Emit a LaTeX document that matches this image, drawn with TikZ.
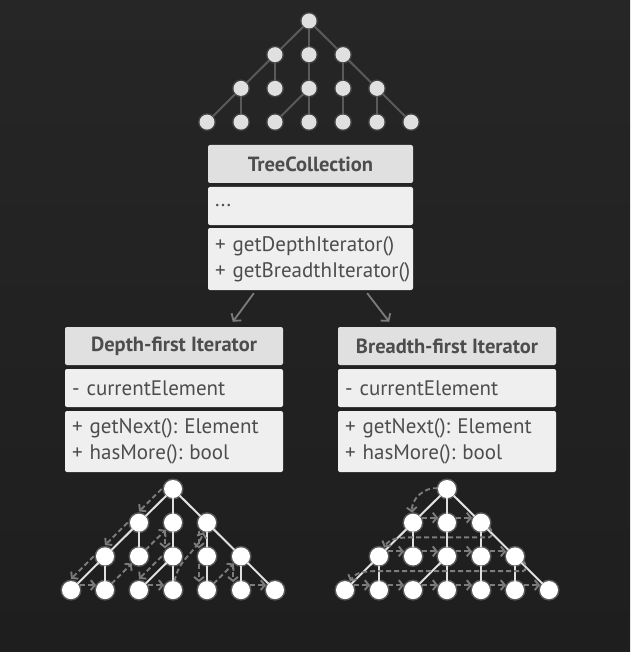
\documentclass[tikz,border=0pt]{standalone}
\usepackage{fontspec}
\setmainfont{PT Sans}
\usepackage{tikz}
\usetikzlibrary{arrows.meta,calc}
\frenchspacing

\definecolor{bgtop}{HTML}{262626}
\definecolor{bgbot}{HTML}{1E1E1E}
\definecolor{headfill}{HTML}{E0E0E0}
\definecolor{boxfill}{HTML}{EFEFEF}
\definecolor{ink}{HTML}{4D4D4D}
\definecolor{darkedge}{HTML}{5A5A5A}
\definecolor{walkgray}{HTML}{7C7C7C}

\begin{document}
\begin{tikzpicture}[x=1pt, y=1pt,
        uml/.style = {rectangle, rounded corners=2pt, fill=boxfill, text=ink, inner xsep=7pt, inner ysep=0pt,
                      font=\fontsize{21}{26}\selectfont},
        head/.style = {uml, fill=headfill, font=\bfseries\fontsize{20.5}{26}\selectfont, minimum height=38pt},
        part/.style = {uml, align=left},
        tnode/.style = {circle, fill=headfill, minimum size=15pt, inner sep=0pt,
                        preaction={draw=white, draw opacity=.12, line width=3pt}},
        bnode/.style = {circle, fill=white, minimum size=18pt, inner sep=0pt,
                        preaction={draw=white, draw opacity=.25, line width=3pt}},
        tedge/.style = {draw=darkedge, line width=2pt},
        bedge/.style = {draw=headfill, line width=2pt},
        walk/.style = {draw=walkgray, line width=1.9pt, dash pattern=on 5pt off 3pt,
                       -{Straight Barb[length=4pt,width=10pt]}, shorten >=1pt},
        dep/.style = {draw=walkgray, line width=1.8pt, -{Straight Barb[length=5pt,width=12pt]}}
    ]
        \shade[top color=bgtop, bottom color=bgbot] (0,0) rectangle (630,-652);

        % the three trees
        \foreach \p/\rx/\ry/\ns/\es in {t/309/-21/tnode/tedge, d/173/-489/bnode/bedge, b/447/-489/bnode/bedge} {
            \node[\ns] (\p0-0) at (\rx,\ry) {};
            \foreach \k in {1,2,3} {
                \pgfmathtruncatemacro\n{2*\k}
                \foreach \i in {0,...,\n}
                    \node[\ns] (\p\k-\i) at ({\rx+(\i-\k)*34}, {\ry-\k*33.7}) {};
            }
            \foreach \a/\b in {0-0/1-0, 0-0/1-1, 0-0/1-2, 1-0/2-0, 1-0/2-1, 1-1/2-2, 1-2/2-3, 1-2/2-4,
                               2-0/3-0, 2-0/3-1, 2-2/3-2, 2-2/3-3, 2-3/3-4, 2-4/3-5, 2-4/3-6}
                \draw[\es] (\p\a) -- (\p\b);
        }

        % collection
        \node[head, minimum width=205pt] (tcname) at (310.5,-164) {TreeCollection};
        \node[part, text width=191pt, minimum height=38pt] (tcattr) at (310.5,-206) {...};
        \node[part, text width=191pt, minimum height=62pt] (tcops) at (310.5,-259)
            {\mbox{+ getDepthIterator()}\\\mbox{+ getBreadthIterator()}};

        % iterators
        \node[head, minimum width=218pt] (dfname) at (174,-346) {Depth-first Iterator};
        \node[part, text width=204pt, minimum height=38pt] (dfattr) at (174,-388) {- currentElement};
        \node[part, text width=204pt, minimum height=61pt] (dfops) at (174,-441.5)
            {+ getNext(): Element\\+ hasMore(): bool};

        \node[head, minimum width=218pt] (bfname) at (447,-346) {Breadth-first Iterator};
        \node[part, text width=204pt, minimum height=38pt] (bfattr) at (447,-388) {- currentElement};
        \node[part, text width=204pt, minimum height=61pt] (bfops) at (447,-441.5)
            {+ getNext(): Element\\+ hasMore(): bool};

        \draw[dep] ([xshift=46pt, yshift=-3pt]tcops.south west) -- ([xshift=168pt, yshift=5pt]dfname.north west);
        \draw[dep] ([xshift=-46pt, yshift=-3pt]tcops.south east) -- ([xshift=-167pt, yshift=5pt]bfname.north east);

        % depth-first walk
        \foreach \a/\b in {0-0/1-0, 1-0/2-0, 2-0/3-0, 1-1/2-2, 2-2/3-2, 1-2/2-3, 2-3/3-4, 2-4/3-5}
            \draw[walk, shorten <=8pt, shorten >=8pt] ($(d\a)!8pt!-90:(d\b)$) -- ($(d\b)!8pt!90:(d\a)$);
        \foreach \a/\b in {3-0/3-1, 3-2/3-3, 3-5/3-6}
            \draw[walk, shorten <=9pt, shorten >=9pt] ($(d\a)!5pt!90:(d\b)$) -- ($(d\b)!5pt!-90:(d\a)$);
        \foreach \a/\b in {3-1/2-1, 2-1/1-1, 3-4/2-4}
            \draw[walk] (d\a) -- (d\b);
        \draw[walk] (d3-3) to[out=80, in=-110] (d1-2);

        % breadth-first walk
        \draw[walk] (b0-0) to[bend right=50] (b1-0);
        \foreach \a/\b in {1-0/1-1, 1-1/1-2, 2-0/2-1, 2-1/2-2, 2-2/2-3, 2-3/2-4,
                           3-0/3-1, 3-1/3-2, 3-2/3-3, 3-3/3-4, 3-4/3-5, 3-5/3-6}
            \draw[walk, shorten <=9pt, shorten >=9pt] ($(b\a)!5pt!90:(b\b)$) -- ($(b\b)!5pt!-90:(b\a)$);
        \draw[walk] (b1-2) to[out=-30, in=0] ($(b2-3)+(8,19)$) -- ($(b2-1)+(0,19)$) to[out=180, in=60] (b2-0);
        \draw[walk] (b2-4) to[out=-30, in=0] ($(b3-5)+(8,19)$) -- ($(b3-1)+(0,19)$) to[out=180, in=60] (b3-0);
    \end{tikzpicture}
\end{document}
